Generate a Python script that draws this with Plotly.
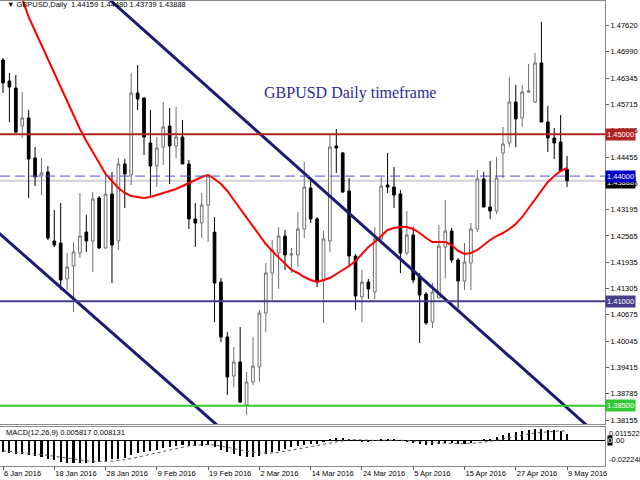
import plotly.graph_objects as go

# ---------------- data ----------------
opens = [1.46781, 1.46278, 1.46111, 1.45200, 1.45392, 1.44433, 1.44002, 1.44098, 1.42445, 1.42397,
         1.41534, 1.41846, 1.42157, 1.42660, 1.42445, 1.43475, 1.42277, 1.43571, 1.42445, 1.44290,
         1.44026, 1.45991, 1.45871, 1.44793, 1.44242, 1.44697, 1.45200, 1.44721, 1.44936, 1.44290,
         1.42972, 1.42876, 1.43307, 1.42660, 1.41462, 1.40144, 1.39210, 1.39545, 1.38515, 1.39066,
         1.39426, 1.40719, 1.41678, 1.42157, 1.42564, 1.42109, 1.42109, 1.42732, 1.43715, 1.42972,
         1.41486, 1.42445, 1.44721, 1.44553, 1.43643, 1.42085, 1.41103, 1.41462, 1.41223, 1.42493,
         1.43786, 1.43738, 1.43571, 1.42157, 1.42588, 1.41582, 1.41175, 1.40504, 1.41079, 1.42301,
         1.42684, 1.41989, 1.41486, 1.41918, 1.42732, 1.43930, 1.43259, 1.43163, 1.44553, 1.44793,
         1.45775, 1.45392, 1.46015, 1.45775, 1.46710, 1.45296, 1.44913, 1.44817, 1.44159]
highs = [1.46829, 1.46470, 1.46422, 1.46015, 1.45583, 1.44697, 1.44433, 1.44242, 1.43187, 1.43355,
         1.42157, 1.42421, 1.43595, 1.43068, 1.43619, 1.43523, 1.44074, 1.44098, 1.44433, 1.44409,
         1.46470, 1.46662, 1.45895, 1.45583, 1.44936, 1.45775, 1.45631, 1.45655, 1.45344, 1.44385,
         1.43355, 1.43595, 1.44050, 1.43020, 1.41558, 1.40264, 1.39905, 1.40384, 1.39306, 1.40144,
         1.40791, 1.41918, 1.42469, 1.42780, 1.42708, 1.42277, 1.43139, 1.44337, 1.43906, 1.43020,
         1.42684, 1.44984, 1.45128, 1.44577, 1.43954, 1.42133, 1.41750, 1.41534, 1.42780, 1.43978,
         1.44553, 1.44218, 1.43667, 1.43163, 1.42780, 1.41678, 1.41223, 1.41438, 1.42828, 1.43427,
         1.42756, 1.42037, 1.42397, 1.42876, 1.44146, 1.44098, 1.44361, 1.44457, 1.45176, 1.46374,
         1.46182, 1.46182, 1.46686, 1.46949, 1.47692, 1.45679, 1.45152, 1.45464, 1.44480]
lows = [1.45991, 1.45296, 1.45032, 1.44913, 1.43475, 1.43762, 1.43547, 1.42469, 1.42301, 1.41271,
        1.41271, 1.40743, 1.42037, 1.42181, 1.41702, 1.42253, 1.42253, 1.41438, 1.42229, 1.43235,
        1.43786, 1.45583, 1.44505, 1.43523, 1.43738, 1.44266, 1.43810, 1.44433, 1.44290, 1.42732,
        1.42301, 1.42517, 1.42421, 1.40504, 1.40025, 1.38755, 1.38946, 1.38563, 1.38276, 1.38994,
        1.39066, 1.40264, 1.41031, 1.41295, 1.41750, 1.41678, 1.41822, 1.42517, 1.42876, 1.41342,
        1.40480, 1.42181, 1.44074, 1.43595, 1.41822, 1.40791, 1.40504, 1.41055, 1.41055, 1.42469,
        1.43595, 1.43235, 1.41678, 1.42109, 1.41438, 1.40001, 1.40432, 1.40360, 1.41079, 1.41558,
        1.41918, 1.40839, 1.41271, 1.41271, 1.42660, 1.43259, 1.42972, 1.43092, 1.43954, 1.44697,
        1.44697, 1.45176, 1.45991, 1.45751, 1.45296, 1.44577, 1.44409, 1.44098, 1.43739]
closes = [1.46230, 1.46134, 1.45056, 1.45392, 1.44409, 1.43978, 1.44074, 1.42517, 1.42349, 1.41510,
          1.41822, 1.42181, 1.42564, 1.42445, 1.43451, 1.42277, 1.43571, 1.42349, 1.44290, 1.44050,
          1.45991, 1.45847, 1.44936, 1.44242, 1.44673, 1.45176, 1.44721, 1.44936, 1.44290, 1.42972,
          1.42876, 1.43307, 1.44002, 1.41438, 1.40144, 1.39186, 1.39545, 1.38587, 1.39066, 1.39450,
          1.40719, 1.41678, 1.42229, 1.42564, 1.42109, 1.42133, 1.42732, 1.43738, 1.42972, 1.41462,
          1.42493, 1.44697, 1.44673, 1.43619, 1.42085, 1.41127, 1.41462, 1.41295, 1.42493, 1.43762,
          1.43738, 1.43547, 1.42157, 1.42588, 1.41510, 1.41151, 1.40480, 1.41223, 1.42325, 1.42684,
          1.41989, 1.41486, 1.41941, 1.42732, 1.43930, 1.43259, 1.43163, 1.43954, 1.44769, 1.45775,
          1.45368, 1.46015, 1.46039, 1.46710, 1.45296, 1.44913, 1.44793, 1.44122, 1.43888]
moving_avg = [1.49561, 1.49129, 1.48698, 1.48267, 1.47812, 1.47476, 1.47141, 1.46805, 1.46470, 1.46134,
              1.45799, 1.45464, 1.45128, 1.44841, 1.44577, 1.44313, 1.44050, 1.43882, 1.43715, 1.43595,
              1.43523, 1.43499, 1.43475, 1.43499, 1.43547, 1.43595, 1.43643, 1.43691, 1.43762, 1.43834,
              1.43906, 1.43978, 1.44026, 1.43930, 1.43810, 1.43643, 1.43427, 1.43211, 1.42996, 1.42780,
              1.42564, 1.42373, 1.42205, 1.42061, 1.41918, 1.41750, 1.41678, 1.41582, 1.41510, 1.41462,
              1.41510, 1.41558, 1.41654, 1.41750, 1.41846, 1.41965, 1.42133, 1.42301, 1.42421, 1.42564,
              1.42708, 1.42756, 1.42780, 1.42780, 1.42732, 1.42636, 1.42517, 1.42421, 1.42421, 1.42421,
              1.42349, 1.42205, 1.42133, 1.42157, 1.42229, 1.42349, 1.42469, 1.42564, 1.42636, 1.42732,
              1.42852, 1.43020, 1.43235, 1.43451, 1.43667, 1.43858, 1.44002, 1.44122, 1.44194]
macd_main = [-0.0105, -0.0110, -0.0115, -0.0120, -0.0130, -0.0140, -0.0145, -0.0160, -0.0170, -0.0185,
             -0.0195, -0.0200, -0.0200, -0.0200, -0.0195, -0.0190, -0.0175, -0.0165, -0.0160, -0.0150,
             -0.0130, -0.0110, -0.0100, -0.0090, -0.0080, -0.0065, -0.0055, -0.0045, -0.0040, -0.0045,
             -0.0045, -0.0045, -0.0040, -0.0055, -0.0080, -0.0105, -0.0120, -0.0135, -0.0145, -0.0145,
             -0.0135, -0.0120, -0.0105, -0.0090, -0.0075, -0.0060, -0.0050, -0.0040, -0.0035, -0.0032,
             -0.0012, 0.0012, 0.0020, 0.0018, 0.0008, -0.0005, -0.0008, -0.0010, -0.0005, 0.0003,
             0.0008, 0.0006, -0.0002, -0.0010, -0.0020, -0.0030, -0.0040, -0.0040, -0.0030, -0.0025,
             -0.0025, -0.0030, -0.0030, -0.0020, 0.0000, 0.0008, 0.0015, 0.0028, 0.0045, 0.0060,
             0.0070, 0.0080, 0.0088, 0.0095, 0.0095, 0.0092, 0.0088, 0.0078, 0.005817]
macd_signal = [-0.0090, -0.0095, -0.0100, -0.0105, -0.0110, -0.0116, -0.0122, -0.0130, -0.0138, -0.0147,
               -0.0156, -0.0165, -0.0172, -0.0178, -0.0182, -0.0184, -0.0183, -0.0180, -0.0175, -0.0168,
               -0.0158, -0.0146, -0.0133, -0.0120, -0.0107, -0.0094, -0.0081, -0.0068, -0.0057, -0.0048,
               -0.0042, -0.0038, -0.0036, -0.0040, -0.0048, -0.0060, -0.0072, -0.0085, -0.0097, -0.0105,
               -0.0110, -0.0112, -0.0110, -0.0105, -0.0095, -0.0085, -0.0075, -0.0065, -0.0055, -0.0045,
               -0.0035, -0.0022, -0.0010, 0.0000, 0.0005, 0.0005, 0.0002, 0.0000, -0.0001, 0.0000,
               0.0002, 0.0002, 0.0000, -0.0002, -0.0005, -0.0010, -0.0015, -0.0020, -0.0024, -0.0027,
               -0.0028, -0.0029, -0.0029, -0.0027, -0.0022, -0.0016, -0.0009, 0.0000, 0.0012, 0.0024,
               0.0035, 0.0045, 0.0055, 0.0063, 0.0070, 0.0075, 0.0078, 0.0081, 0.008131]

date_tick_index = [0, 8, 16, 24, 32, 40, 48, 56, 64, 72, 80, 88]
date_tick_labels = ["6 Jan 2016", "18 Jan 2016", "28 Jan 2016", "9 Feb 2016", "19 Feb 2016",
                    "2 Mar 2016", "14 Mar 2016", "24 Mar 2016", "5 Apr 2016", "15 Apr 2016",
                    "27 Apr 2016", "9 May 2016"]
price_ticks = [1.38155, 1.38785, 1.39415, 1.40045, 1.40675, 1.41305, 1.41935, 1.42565,
               1.43195, 1.43825, 1.44455, 1.45085, 1.45715, 1.46345, 1.46990, 1.47620]
macd_labels = [0.011522, -0.022248]

level_values = [1.45000, 1.44000, 1.41000, 1.38500]
bid_price = 1.43888
trend_upper_x = [10, 94]
trend_upper_y = [1.49137, 1.37626]
trend_lower_x = [-1, 34]
trend_lower_y = [1.42684, 1.37952]

# ---------------- figure ----------------
FONT = "Liberation Sans"
xs = list(range(len(opens)))
frame = "#8c8c8c"

fig = go.Figure()
fig.add_trace(go.Candlestick(
    x=xs, open=opens, high=highs, low=lows, close=closes,
    increasing=dict(line=dict(color="#6e6e6e", width=1), fillcolor="#ffffff"),
    decreasing=dict(line=dict(color="#000000", width=1), fillcolor="#000000"),
    whiskerwidth=0, xaxis="x", yaxis="y", showlegend=False, hoverinfo="skip"))
fig.add_trace(go.Scatter(x=xs, y=moving_avg, mode="lines",
                         line=dict(color="#ff0000", width=2), xaxis="x", yaxis="y",
                         showlegend=False, hoverinfo="skip"))
for tx, ty in ((trend_upper_x, trend_upper_y), (trend_lower_x, trend_lower_y)):
    fig.add_trace(go.Scatter(x=tx, y=ty, mode="lines",
                             line=dict(color="#1b1b72", width=3), xaxis="x", yaxis="y",
                             showlegend=False, hoverinfo="skip"))

fig.add_trace(go.Bar(x=xs, y=macd_main, width=0.32,
                     marker=dict(color="#000000", line=dict(width=0)),
                     xaxis="x2", yaxis="y2", showlegend=False, hoverinfo="skip"))
fig.add_trace(go.Scatter(x=xs, y=macd_signal, mode="lines",
                         line=dict(color="#555555", width=1, dash="dot"),
                         xaxis="x2", yaxis="y2", showlegend=False, hoverinfo="skip"))

level_styles = [
    dict(color="#b22222", width=2, dash="solid"),
    dict(color="#4f4fd6", width=1, dash="10px,5px"),
    dict(color="#463c8c", width=2, dash="solid"),
    dict(color="#34c934", width=2, dash="solid"),
]
label_bg = ["#b22222", "#0000c8", "#463c8c", "#34c934"]

shapes = [dict(type="line", xref="paper", x0=0, x1=1, yref="y", y0=bid_price, y1=bid_price,
               line=dict(color="#d2d2d2", width=2), layer="below")]
for v, st in zip(level_values, level_styles):
    shapes.append(dict(type="line", xref="paper", x0=0, x1=1, yref="y", y0=v, y1=v,
                       line=st, layer="above"))

small = dict(family=FONT, size=7.5, color="#000000")
annotations = [
    dict(xref="paper", yref="y", x=1, y=bid_price, xanchor="left", yanchor="middle",
         text=f"{bid_price:.5f}", showarrow=False, bgcolor="#000000",
         font=dict(family=FONT, size=7.5, color="#ffffff"), borderpad=1, yshift=-2),
]
order = [0, 2, 3, 1]
for k in order:
    v = level_values[k]
    annotations.append(dict(xref="paper", yref="y", x=1, y=v, xanchor="left", yanchor="middle",
                            text=f"{v:.5f}", showarrow=False, bgcolor=label_bg[k],
                            font=dict(family=FONT, size=7.5, color="#ffffff"), borderpad=1))
annotations += [
    dict(xref="paper", yref="paper", x=0.5777, y=0.8022, xanchor="center", yanchor="middle",
         text="GBPUSD Daily timeframe", showarrow=False,
         font=dict(family="Liberation Serif", size=16, color="#2b2b8c")),
    dict(xref="paper", yref="paper", x=0.008, y=0.9925, xanchor="left", yanchor="middle",
         text=("\u25BC GBPUSD,Daily\u00a0\u00a0" + f"{opens[-1]:.5f} {highs[-1]:.5f} "
               f"{lows[-1]:.5f} {closes[-1]:.5f}"),
         showarrow=False, font=small),
    dict(xref="paper", yref="paper", x=0.006, y=0.071, xanchor="left", yanchor="middle",
         text=f"MACD(12,26,9) {macd_main[-1]:.6f} {macd_signal[-1]:.6f}",
         showarrow=False, font=dict(family=FONT, size=7.5, color="#000000")),
    dict(xref="paper", yref="y2", x=1, y=macd_labels[0], xanchor="left", yanchor="top",
         text=f"{macd_labels[0]:.6f}", showarrow=False, font=small, xshift=2),
    dict(xref="paper", yref="y2", x=1, y=macd_labels[1], xanchor="left", yanchor="bottom",
         text=f"{macd_labels[1]:.6f}", showarrow=False, font=small, xshift=2),
    dict(xref="paper", yref="y2", x=1, y=0, xanchor="left", yanchor="middle",
         text="0", showarrow=False, bgcolor="#000000",
         font=dict(family=FONT, size=7.5, color="#ffffff"), xshift=2, borderpad=0),
    dict(xref="paper", yref="y2", x=1, y=0, xanchor="left", yanchor="middle",
         text=".00", showarrow=False, font=small, xshift=7),
]

fig.update_layout(
    width=640, height=480,
    margin=dict(l=0, r=35, t=1, b=14),
    paper_bgcolor="#ffffff", plot_bgcolor="#ffffff",
    showlegend=False, boxgap=0.4, bargap=0,
    xaxis=dict(domain=[0, 1], anchor="y", range=[-0.47, 93.92], showticklabels=False,
               ticks="", showgrid=False, zeroline=False, showline=True, mirror=True,
               linecolor=frame, linewidth=1, rangeslider=dict(visible=False)),
    yaxis=dict(domain=[0.0903, 1.0], anchor="x", range=[1.38060, 1.48195], side="right",
               tickvals=price_ticks, ticktext=[f"{v:.5f}" for v in price_ticks],
               ticks="outside", ticklen=3, tickcolor="#555555", tickfont=small,
               showgrid=False, zeroline=False, showline=True, mirror=True,
               linecolor=frame, linewidth=1),
    xaxis2=dict(domain=[0, 1], anchor="y2", matches="x", range=[-0.47, 93.92],
                tickvals=date_tick_index, ticktext=date_tick_labels,
                ticks="outside", ticklen=3, tickcolor="#555555", tickfont=small,
                ticklabelposition="outside right",
                showgrid=False, zeroline=False, showline=True, mirror=True,
                linecolor=frame, linewidth=1, rangeslider=dict(visible=False)),
    yaxis2=dict(domain=[0, 0.0839], anchor="x2", range=[-0.022248, 0.011522], side="right",
                showticklabels=False, ticks="", showgrid=False,
                zeroline=True, zerolinecolor="#000000", zerolinewidth=1,
                showline=True, mirror=True, linecolor=frame, linewidth=1),
    shapes=shapes, annotations=annotations,
)

fig.write_html("out.html", config={"displayModeBar": False},
               post_script="document.body.style.margin='0px';document.body.style.overflow='hidden';")
